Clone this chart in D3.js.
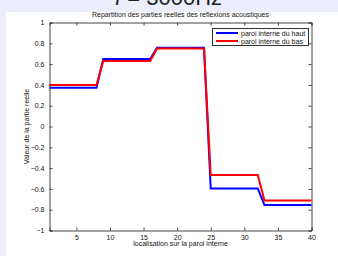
<!DOCTYPE html>
<html><head><meta charset="utf-8">
<script src="https://cdn.jsdelivr.net/npm/d3@7"></script>
<style>body{margin:0;background:#eceefb;}svg{display:block;font-family:"Liberation Sans",Arial,sans-serif;}</style>
</head><body><svg id="c" width="338" height="256"></svg>
<script>
const positions = d3.range(1, 41);
const hautValues = [
  0.372,0.372,0.372,0.372,0.372,0.372,0.372,0.372,
  0.648,0.648,0.648,0.648,0.648,0.648,0.648,0.648,
  0.757,0.757,0.757,0.757,0.757,0.757,0.757,0.757,
  -0.596,-0.596,-0.596,-0.596,-0.596,-0.596,-0.596,-0.596,
  -0.756,-0.756,-0.756,-0.756,-0.756,-0.756,-0.756,-0.756];
const basValues = [
  0.398,0.398,0.398,0.398,0.398,0.398,0.398,0.398,
  0.630,0.630,0.630,0.630,0.630,0.630,0.630,0.630,
  0.750,0.750,0.750,0.750,0.750,0.750,0.750,0.750,
  -0.467,-0.467,-0.467,-0.467,-0.467,-0.467,-0.467,-0.467,
  -0.711,-0.711,-0.711,-0.711,-0.711,-0.711,-0.711,-0.711];
const seriesNames = ["paroi interne du haut","paroi interne du bas"];
const seriesColors = ["#0000ff","#ff0000"];
const xTicks = [5,10,15,20,25,30,35,40];
const yTicks = [-1,-0.8,-0.6,-0.4,-0.2,0,0.2,0.4,0.6,0.8,1];

const svg = d3.select("#c");
svg.append("rect").attr("x",6).attr("y",12).attr("width",332).attr("height",244).attr("fill","#fff");

const x = d3.scaleLinear().domain([1,40]).range([49.5,311.5]);
const y = d3.scaleLinear().domain([-1,1]).range([230.5,22.5]);
const fmt = d => d === 0 ? "0" : String(d).replace("-", "\u2212");

// big cut-off header
const hdr = svg.append("text").attr("x",115).attr("y",5).attr("font-size",22).attr("fill","#222");
hdr.append("tspan").attr("font-style","italic").text("f");
hdr.append("tspan").text(" = 3000Hz");

svg.append("text").attr("x",180.5).attr("y",17).attr("text-anchor","middle").attr("font-size",7).attr("fill","#111")
  .text("Repartition des parties reelles des reflexions acoustiques");

const g = svg.append("g");
// axes
g.append("g").attr("transform",`translate(0,${y(-1)})`)
  .call(d3.axisBottom(x).tickValues(xTicks).tickSize(-3).tickPadding(5).tickFormat(d3.format("d")));
g.append("g").attr("transform",`translate(0,${y(1)})`)
  .call(d3.axisTop(x).tickValues(xTicks).tickSize(-3).tickFormat(""));
g.append("g").attr("transform",`translate(${x(1)},0)`)
  .call(d3.axisLeft(y).tickValues(yTicks).tickSize(-3).tickPadding(5).tickFormat(fmt));
g.append("g").attr("transform",`translate(${x(40)},0)`)
  .call(d3.axisRight(y).tickValues(yTicks).tickSize(-3).tickFormat(""));
g.selectAll(".domain").attr("stroke","#444");
g.selectAll(".tick line").attr("stroke","#444");
g.selectAll(".tick text").attr("font-size",7).attr("fill","#111").attr("font-family","Liberation Sans, Arial, sans-serif");

// lines
const line = d3.line().x((d,i)=>x(positions[i])).y(d=>y(d));
[hautValues, basValues].forEach((vals,k)=>{
  svg.append("path").datum(vals).attr("d",line).attr("fill","none")
    .attr("stroke",seriesColors[k]).attr("stroke-width",2);
});

// axis labels
svg.append("text").attr("x",180.5).attr("y",246).attr("text-anchor","middle").attr("font-size",7).attr("fill","#111")
  .text("localisation sur la paroi interne");
svg.append("text").attr("transform",`translate(29,${y(0)}) rotate(-90)`).attr("text-anchor","middle").attr("font-size",7).attr("fill","#111")
  .text("Valeur de la partie reelle");

// legend
const lg = svg.append("g");
lg.append("rect").attr("x",212.5).attr("y",28.5).attr("width",96).attr("height",17).attr("fill","#fff").attr("stroke","#333").attr("stroke-width",1);
seriesNames.forEach((n,k)=>{
  const yy = 33 + k*8;
  lg.append("line").attr("x1",216).attr("x2",238).attr("y1",yy).attr("y2",yy).attr("stroke",seriesColors[k]).attr("stroke-width",2);
  lg.append("text").attr("x",241).attr("y",yy+2.5).attr("font-size",7).attr("fill","#111").text(n);
});
</script></body></html>
